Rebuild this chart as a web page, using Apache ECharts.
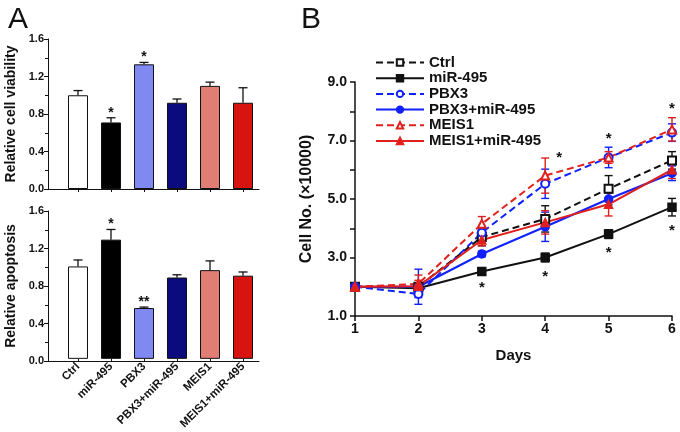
<!DOCTYPE html>
<html>
<head>
<meta charset="utf-8">
<script src="https://cdn.jsdelivr.net/npm/echarts@6/dist/echarts.min.js"></script>
<style>html,body{margin:0;padding:0;background:#fff}#c{width:680px;height:432px}</style>
</head>
<body>
<div id="c"></div>
<script>
// ---------- Panel A data ----------
const categories = ['Ctrl', 'miR-495', 'PBX3', 'PBX3+miR-495', 'MEIS1', 'MEIS1+miR-495'];
const viability = [1.00, 0.71, 1.33, 0.92, 1.10, 0.92];
const viabilityErr = [0.05, 0.05, 0.02, 0.04, 0.04, 0.16];
const viabilitySig = ['', '*', '*', '', '', ''];
const apoptosis = [1.00, 1.29, 0.55, 0.88, 0.96, 0.90];
const apoptosisErr = [0.07, 0.11, 0.01, 0.03, 0.10, 0.04];
const apoptosisSig = ['', '*', '**', '', '', ''];
const barColors = ['#ffffff', '#000000', '#8088f2', '#0b0b7e', '#e07d75', '#d81410'];
const yTicksA = [0, 1.6, 0.4];

// ---------- Panel B data ----------
const days = [1, 2, 3, 4, 5, 6];
const ctrl = [2.0, 2.0, 3.7, 4.32, 5.35, 6.32];
const ctrlErr = [0.05, 0.1, 0.3, 0.45, 0.45, 0.3];
const mir495 = [2.0, 1.95, 2.52, 3.0, 3.8, 4.72];
const mir495Err = [0.05, 0.05, 0.06, 0.15, 0.15, 0.3];
const pbx3 = [2.0, 1.75, 3.85, 5.52, 6.42, 7.27];
const pbx3Err = [0.05, 0.12, 0.2, 0.5, 0.35, 0.3];
const pbx3Mir = [2.0, 2.0, 3.12, 4.05, 5.0, 5.88];
const pbx3MirErr = [0.05, 0.6, 0.1, 0.5, 0.2, 0.25];
const meis1 = [2.0, 2.1, 4.15, 5.8, 6.42, 7.38];
const meis1Err = [0.05, 0.3, 0.25, 0.6, 0.2, 0.4];
const meis1Mir = [2.0, 2.02, 3.6, 4.2, 4.82, 6.0];
const meis1MirErr = [0.05, 0.2, 0.2, 0.4, 0.4, 0.3];
const sigAbove = [0, 0, 0, 1, 1, 1];
const sigAboveShift = [0, 0, 0, 0.22, 0, 0];
const sigBelow = [0, 0, 1, 1, 1, 1];
const yTicksB = [1, 9, 1];

const FONT = 'Liberation Sans, Arial, sans-serif';
const BLACK = '#111';
const BLUE = '#1020ff';
const RED = '#e0201c';

const seriesB = [
  {name: 'Ctrl', v: ctrl, e: ctrlErr, color: BLACK, dash: true, symbol: 'emptyRect'},
  {name: 'miR-495', v: mir495, e: mir495Err, color: BLACK, dash: false, symbol: 'rect'},
  {name: 'PBX3', v: pbx3, e: pbx3Err, color: BLUE, dash: true, symbol: 'emptyCircle'},
  {name: 'PBX3+miR-495', v: pbx3Mir, e: pbx3MirErr, color: BLUE, dash: false, symbol: 'circle'},
  {name: 'MEIS1', v: meis1, e: meis1Err, color: RED, dash: true, symbol: 'emptyTriangle'},
  {name: 'MEIS1+miR-495', v: meis1Mir, e: meis1MirErr, color: RED, dash: false, symbol: 'triangle'}
];

const chart = echarts.init(document.getElementById('c'), null, {renderer: 'canvas'});

// Panel A grids: 0/2 carry the y axis and full x axis line, 1/3 carry bars
const gridTop = {top: 39, height: 150};
const gridBot = {top: 211, height: 150};
const grids = [
  Object.assign({left: 48, width: 211}, gridTop),
  Object.assign({left: 61.5, width: 198}, gridTop),
  Object.assign({left: 48, width: 211}, gridBot),
  Object.assign({left: 61.5, width: 198}, gridBot),
  {left: 355, top: 82, width: 317, height: 234}
];

function lineXAxis(gi) {
  return {type: 'value', gridIndex: gi, min: 0, max: 1, show: true,
    axisLine: {show: true, lineStyle: {color: BLACK, width: 1}},
    axisTick: {show: false}, axisLabel: {show: false}, splitLine: {show: false}};
}
function catXAxis(gi, showLabels) {
  return {type: 'category', gridIndex: gi, data: categories,
    axisLine: {show: false},
    axisTick: {show: true, alignWithLabel: true, length: 3, lineStyle: {color: BLACK}},
    axisLabel: {show: showLabels, rotate: 45, interval: 0, fontSize: 11.5, fontWeight: 'bold',
      color: BLACK, fontFamily: FONT, margin: 6},
    splitLine: {show: false}};
}
function valYAxisA(gi, name) {
  return {type: 'value', gridIndex: gi, min: yTicksA[0], max: yTicksA[1], interval: yTicksA[2],
    name: name, nameLocation: 'middle', nameGap: 30,
    nameTextStyle: {fontSize: 14, fontWeight: 'bold', color: BLACK, fontFamily: FONT},
    axisLine: {show: true, lineStyle: {color: BLACK, width: 1}},
    axisTick: {show: true, length: 4, lineStyle: {color: BLACK}},
    minorTick: {show: true, splitNumber: 2, length: 3, lineStyle: {color: BLACK}},
    axisLabel: {fontSize: 11, fontWeight: 'bold', color: BLACK, fontFamily: FONT, margin: 4,
      formatter: v => v.toFixed(1)},
    splitLine: {show: false}};
}
function hiddenYAxis(gi) {
  return {type: 'value', gridIndex: gi, min: yTicksA[0], max: yTicksA[1], show: false,
    splitLine: {show: false}};
}

function barSeries(xi, yi, vals) {
  return {type: 'bar', xAxisIndex: xi, yAxisIndex: yi, barWidth: 20,
    data: vals.map((v, i) => ({value: v, itemStyle: {color: barColors[i]}})),
    itemStyle: {borderColor: BLACK, borderWidth: 1}, z: 2, silent: true};
}
function barErrSeries(xi, yi, vals, errs, sig) {
  return {type: 'custom', xAxisIndex: xi, yAxisIndex: yi, z: 3, silent: true,
    data: vals.map((v, i) => [i, v, errs[i]]),
    renderItem: function (params, api) {
      const i = api.value(0), v = api.value(1), e = api.value(2);
      const s = sig[i];
      const p0 = api.coord([i, v]);
      const p1 = api.coord([i, v + e]);
      const st = {stroke: BLACK, lineWidth: 1.3};
      const children = [
        {type: 'line', shape: {x1: p0[0], y1: p0[1], x2: p1[0], y2: p1[1]}, style: st},
        {type: 'line', shape: {x1: p1[0] - 4.5, y1: p1[1], x2: p1[0] + 4.5, y2: p1[1]}, style: st}
      ];
      if (s) {
        children.push({type: 'text', x: p1[0], y: p1[1] + 2,
          style: {text: s, fill: BLACK, font: 'bold 14px ' + FONT, textAlign: 'center', textVerticalAlign: 'bottom'}});
      }
      return {type: 'group', children: children};
    }};
}

const series = [
  barSeries(1, 1, viability),
  barErrSeries(1, 1, viability, viabilityErr, viabilitySig),
  barSeries(3, 3, apoptosis),
  barErrSeries(3, 3, apoptosis, apoptosisErr, apoptosisSig)
];

// Panel B: error bars, then lines
seriesB.forEach(s => {
  series.push({type: 'custom', xAxisIndex: 4, yAxisIndex: 4, z: 3, silent: true,
    data: days.map((d, i) => [d, s.v[i], s.e[i]]),
    renderItem: function (params, api) {
      const x = api.value(0), v = api.value(1), e = api.value(2);
      const a = api.coord([x, v + e]), b = api.coord([x, v - e]);
      const st = {stroke: s.color, lineWidth: 1.4};
      return {type: 'group', children: [
        {type: 'line', shape: {x1: a[0], y1: a[1], x2: b[0], y2: b[1]}, style: st},
        {type: 'line', shape: {x1: a[0] - 4, y1: a[1], x2: a[0] + 4, y2: a[1]}, style: st},
        {type: 'line', shape: {x1: b[0] - 4, y1: b[1], x2: b[0] + 4, y2: b[1]}, style: st}
      ]};
    }});
});
seriesB.forEach(s => {
  series.push({type: 'line', name: s.name, xAxisIndex: 4, yAxisIndex: 4, z: 4, silent: true,
    data: days.map((d, i) => [d, s.v[i]]),
    symbol: s.symbol, symbolSize: 8, showSymbol: true,
    lineStyle: {color: s.color, width: 2, type: s.dash ? [7, 4] : 'solid'},
    itemStyle: {color: s.color, borderColor: s.color, borderWidth: 1.5},
    animation: false});
});
// significance stars for panel B
const starData = [];
days.forEach((d, i) => {
  const tops = seriesB.map(s => s.v[i] + s.e[i]);
  if (sigAbove[i]) starData.push([d + sigAboveShift[i], Math.max.apply(null, tops) + (sigAboveShift[i] ? 0 : 0.3)]);
  if (sigBelow[i]) starData.push([d, mir495[i] - mir495Err[i] - 0.5]);
});
series.push({type: 'custom', xAxisIndex: 4, yAxisIndex: 4, z: 5, silent: true,
  data: starData,
  renderItem: function (params, api) {
    const p = api.coord([api.value(0), api.value(1)]);
    return {type: 'text', x: p[0], y: p[1],
      style: {text: '*', fill: BLACK, font: 'bold 15px ' + FONT, textAlign: 'center', textVerticalAlign: 'middle'}};
  }});

const option = {
  animation: false,
  backgroundColor: '#ffffff',
  textStyle: {fontFamily: FONT},
  title: [
    {text: 'A', left: 3, top: 0, textStyle: {fontSize: 30, fontWeight: 'normal', color: BLACK, fontFamily: FONT}},
    {text: 'B', left: 296, top: 0, textStyle: {fontSize: 30, fontWeight: 'normal', color: BLACK, fontFamily: FONT}}
  ],
  legend: {
    data: seriesB.map(s => s.name), orient: 'vertical', left: 375, top: 55, padding: 0,
    itemWidth: 48, itemHeight: 8, itemGap: 0.7, selectedMode: false,
    textStyle: {fontSize: 15, fontWeight: 'bold', color: BLACK, fontFamily: FONT, lineHeight: 14, padding: [0, 0, 0, 0]}
  },
  grid: grids,
  xAxis: [
    lineXAxis(0), catXAxis(1, false), lineXAxis(2), catXAxis(3, true),
    {type: 'value', gridIndex: 4, min: 1, max: 6, interval: 1,
      name: 'Days', nameLocation: 'middle', nameGap: 32,
      nameTextStyle: {fontSize: 15, fontWeight: 'bold', color: BLACK, fontFamily: FONT},
      axisLine: {show: true, lineStyle: {color: BLACK, width: 1.5}},
      axisTick: {show: true, length: 5, lineStyle: {color: BLACK, width: 1.5}},
      axisLabel: {fontSize: 14, fontWeight: 'bold', color: BLACK, fontFamily: FONT, margin: 6},
      splitLine: {show: false}}
  ],
  yAxis: [
    valYAxisA(0, 'Relative cell viability'), hiddenYAxis(1),
    valYAxisA(2, 'Relative apoptosis'), hiddenYAxis(3),
    {type: 'value', gridIndex: 4, min: yTicksB[0], max: yTicksB[1], interval: yTicksB[2],
      name: 'Cell No. (×10000)', nameLocation: 'middle', nameGap: 40,
      nameTextStyle: {fontSize: 16, fontWeight: 'bold', color: BLACK, fontFamily: FONT},
      axisLine: {show: true, lineStyle: {color: BLACK, width: 1.5}},
      axisTick: {show: true, length: 5, lineStyle: {color: BLACK, width: 1.5}},
      axisLabel: {fontSize: 14, fontWeight: 'bold', color: BLACK, fontFamily: FONT, margin: 8,
        formatter: v => (Math.round(v) % 2 === 1 ? v.toFixed(1) : '')},
      splitLine: {show: false}}
  ],
  series: series
};
chart.setOption(option);
</script>
</body>
</html>
